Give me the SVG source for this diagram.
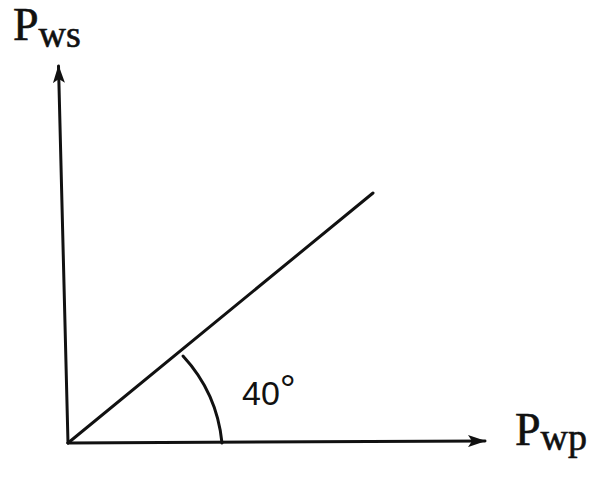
<svg xmlns="http://www.w3.org/2000/svg" width="615" height="479" viewBox="0 0 615 479">
<style>
.ln{stroke:#111;stroke-width:3;fill:none;stroke-linecap:round}
.lab{font-family:"Liberation Serif","Times New Roman",serif;fill:#111;stroke:#111;stroke-width:0.6}
.ang{font-family:"Liberation Sans",Arial,sans-serif;fill:#111}
</style>
<defs>
<marker id="ah" viewBox="0 0 18 12" refX="17" refY="6" markerWidth="18" markerHeight="12" markerUnits="userSpaceOnUse" orient="auto">
<path d="M0,0 L18,6 L0,12 L4,6 Z" fill="#111"/>
</marker>
</defs>
<rect width="615" height="479" fill="#fff"/>
<g id="connectors">
<line class="ln" x1="68" y1="443" x2="58.5" y2="66" marker-end="url(#ah)"/>
<line class="ln" x1="68" y1="443" x2="485" y2="441" marker-end="url(#ah)"/>
<line class="ln" x1="68" y1="443" x2="373" y2="193"/>
<path class="ln" d="M183,356 A150,150 0 0 1 222,443"/>
</g>
<g id="label-pws">
<text class="lab" x="13" y="40" font-size="46">P<tspan font-size="38" dy="7">ws</tspan></text>
</g>
<g id="label-pwp">
<text class="lab" x="515" y="445" font-size="46">P<tspan font-size="38" dy="5">wp</tspan></text>
</g>
<g id="label-angle">
<text class="ang" x="242" y="405" font-size="34">40<tspan font-size="40" dy="-2">°</tspan></text>
</g>
</svg>
